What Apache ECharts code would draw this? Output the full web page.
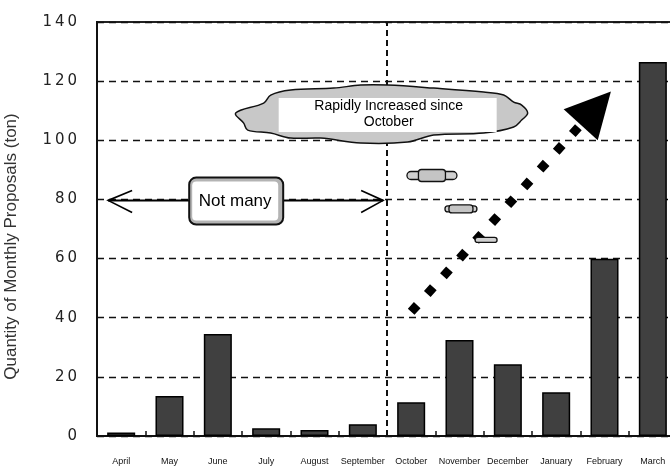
<!DOCTYPE html>
<html>
<head>
<meta charset="utf-8">
<script src="https://cdn.jsdelivr.net/npm/echarts@6/dist/echarts.min.js"></script>
<style>
  html, body { margin: 0; padding: 0; background: #fff; }
  #chart { width: 670px; height: 466px; }
</style>
</head>
<body>
<div id="chart"></div>
<script>
// Monthly proposal quantities (ton), fiscal year April → March
const months = ['April', 'May', 'June', 'July', 'August', 'September',
                'October', 'November', 'December', 'January', 'February', 'March'];
const proposals = [1.2, 13.5, 34.5, 2.6, 2.0, 4.0, 11.4, 32.5, 24.3, 14.8, 59.9, 126.5];
const yTicks = [0, 20, 40, 60, 80, 100, 120, 140];

// Annotation anchors in data space: [category position, value]
const splitAt = 5.5;                       // boundary between September and October
const notManyFrom = [-0.27, 80];
const notManyTo = [5.42, 80];
const notManyBox = [2.38, 79.6];
const cloudCenter = [5.39, 109.2];
// [position, value, outer length, outer height, inner length, inner height]
const puffs = [
  [6.43, 88.1, 50, 8, 27, 12],
  [7.03, 76.8, 32, 6, 24, 8],
  [7.55, 66.3, 22, 5, 0, 0]
];
const trendFrom = [6.0, 42.0];
const trendTo = [9.82, 110.9];

const FONT = '"Liberation Sans", Arial, sans-serif';
const chart = echarts.init(document.getElementById('chart'), null, { renderer: 'canvas' });

chart.setOption({
  animation: false,
  backgroundColor: '#fff',
  grid: {
    left: 97, right: -7, top: 22, bottom: 30,
    outerBoundsMode: 'none',
    containLabel: false,
    show: true, borderColor: '#222', borderWidth: 2, backgroundColor: 'transparent'
  },
  xAxis: [{
    type: 'category',
    data: months,
    axisLine: { lineStyle: { color: '#111', width: 2 } },
    axisTick: { show: true, inside: true, length: 5, lineStyle: { color: '#111', width: 1.5 } },
    axisLabel: { fontFamily: FONT, fontSize: 9, color: '#111', margin: 21, interval: 0 },
    splitLine: { show: false }
  }, {
    type: 'value', min: -0.5, max: 11.5, show: false
  }],
  yAxis: {
    type: 'value',
    min: yTicks[0], max: yTicks[yTicks.length - 1], interval: 20,
    name: 'Quantity of Monthly Proposals (ton)',
    nameLocation: 'middle',
    nameGap: 77,
    nameTextStyle: { fontFamily: FONT, fontSize: 17, color: '#333', padding: [0, 35, 0, 0] },
    axisLine: { show: true, onZero: false, lineStyle: { color: '#111', width: 2 } },
    axisTick: { show: true, inside: true, length: 4, lineStyle: { color: '#111' } },
    axisLabel: {
      fontFamily: '"DejaVu Sans", sans-serif', fontSize: 15, color: '#222', margin: 20,
      formatter: function (v) { return String(v).split('').join('\u2009'); }
    },
    splitLine: {
      show: true,
      lineStyle: { color: '#111', width: 1.3, type: [7, 5] }
    }
  },
  series: [{
    type: 'bar',
    data: proposals,
    barCategoryGap: '42%',
    itemStyle: { color: '#404040', borderColor: '#000', borderWidth: 1.5 }
  }, {
    // dashed divider between September and October
    type: 'line',
    xAxisIndex: 1,
    data: [],
    markLine: {
      silent: true,
      animation: false,
      symbol: ['none', 'none'],
      label: { show: false },
      lineStyle: { color: '#111', width: 2, type: [6, 4] },
      data: [{ xAxis: splitAt }]
    }
  }, {
    // dotted trend arrow rising from October
    type: 'line',
    xAxisIndex: 1,
    data: [],
    markLine: {
      silent: true,
      animation: false,
      symbol: ['none', 'triangle'],
      symbolSize: [46, 45],
      label: { show: false },
      lineStyle: { color: '#000', width: 9, type: [9, 15] },
      itemStyle: { color: '#000' },
      data: [[{ coord: trendFrom }, { coord: trendTo }]]
    }
  }]
});

// Helper: data position -> pixel position on the grid
function px(p) {
  return chart.convertToPixel({ xAxisIndex: 1, yAxisIndex: 0 }, p);
}

function capsule(cx, cy, w, h, fill, r, z) {
  return {
    type: 'rect',
    shape: { x: cx - w / 2, y: cy - h / 2, width: w, height: h, r: r },
    style: { fill: fill, stroke: '#111', lineWidth: 1.3 },
    z: z
  };
}

const g = [];

// "Not many" double-headed arrow across April–September
const a = px(notManyFrom), b = px(notManyTo);
g.push({
  type: 'line', z: 20,
  shape: { x1: a[0], y1: a[1] + 1, x2: b[0], y2: b[1] + 1 },
  style: { stroke: '#000', lineWidth: 2 }
});
g.push({
  type: 'polyline', z: 20,
  shape: { points: [[a[0] + 24, a[1] - 9], [a[0], a[1] + 1], [a[0] + 24, a[1] + 13]] },
  style: { stroke: '#000', lineWidth: 1.6, fill: null }
});
g.push({
  type: 'polyline', z: 20,
  shape: { points: [[b[0] - 22, b[1] - 9], [b[0], b[1] + 1], [b[0] - 22, b[1] + 13]] },
  style: { stroke: '#000', lineWidth: 1.6, fill: null }
});
const nb = px(notManyBox);
g.push({
  type: 'rect', z: 21,
  shape: { x: nb[0] - 47, y: nb[1] - 23, width: 94, height: 47, r: 7 },
  style: { fill: '#b4b4b4', stroke: '#111', lineWidth: 2 }
});
g.push({
  type: 'rect', z: 22,
  shape: { x: nb[0] - 44, y: nb[1] - 19, width: 86, height: 39, r: 4 },
  style: { fill: '#fff', stroke: null }
});
g.push({
  type: 'text', z: 23,
  x: nb[0] - 1, y: nb[1] + 1,
  style: { text: 'Not many', fontFamily: FONT, fontSize: 17, fill: '#000', align: 'center', verticalAlign: 'middle' }
});

// Cloud callout for the rise since October
const c = px(cloudCenter);
const cloudOutline = [
  [-146, 0], [-118, -10], [-111, -18], [-91, -23], [-48, -25], [-21, -28], [6, -28],
  [52, -25], [102, -21], [122, -18], [132, -11], [140, -8], [146, 0], [140, 7],
  [132, 14], [102, 20], [52, 22], [26, 29], [-21, 30], [-61, 25], [-91, 25],
  [-111, 20], [-134, 17], [-138, 10]
];
g.push({
  type: 'polygon', z: 20,
  shape: { points: cloudOutline.map(p => [c[0] + p[0], c[1] + p[1]]), smooth: 0.35 },
  style: { fill: '#c8c8c8', stroke: '#111', lineWidth: 1.5 }
});
g.push({
  type: 'rect', z: 21,
  shape: { x: c[0] - 103, y: c[1] - 15, width: 218, height: 34 },
  style: { fill: '#fff' }
});
g.push({
  type: 'text', z: 22,
  x: c[0] + 7, y: c[1] + 1,
  style: {
    text: 'Rapidly Increased since\nOctober', fontFamily: FONT, fontSize: 14, lineHeight: 16,
    fill: '#000', align: 'center', verticalAlign: 'middle'
  }
});

// Small trailing puffs of the cloud
puffs.forEach(function (p) {
  const q = px([p[0], p[1]]);
  g.push(capsule(q[0], q[1], p[2], p[3], '#d0d0d0', p[3] / 2, 20));
  if (p[4] > 0) {
    g.push(capsule(q[0], q[1], p[4], p[5], '#c4c4c4', 3, 21));
  }
});

chart.setOption({ graphic: g });
</script>
</body>
</html>
